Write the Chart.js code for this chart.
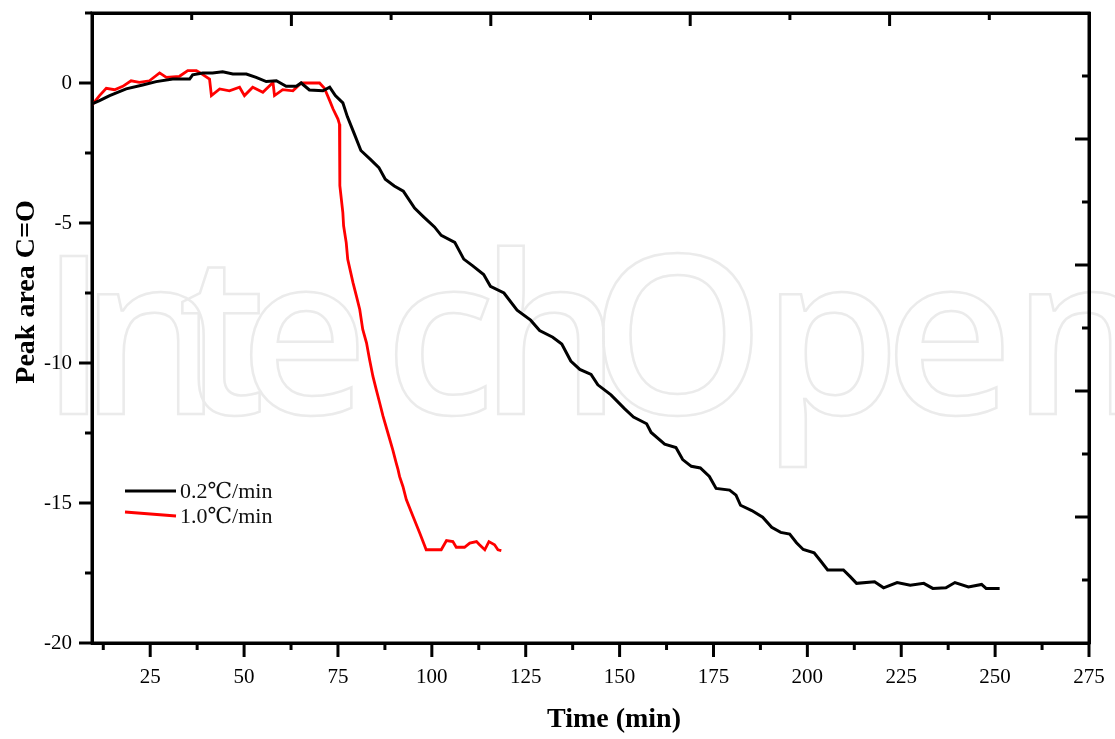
<!DOCTYPE html>
<html><head><meta charset="utf-8">
<script src="https://cdn.jsdelivr.net/npm/chart.js@4/dist/chart.umd.min.js"></script>
<style>html,body{margin:0;padding:0;background:#fff;} #wrap{width:1115px;height:739px;position:relative;}</style>
</head><body><div id="wrap"><canvas id="c" width="1115" height="739"></canvas></div>
<script>
// ---- data ----
const time02 = [9.5,11.5,14.2,18.6,23,26.6,31,35.5,36.3,39,41.6,44.3,47,50.6,53.2,55.9,58.6,61.2,63.9,65.2,67.4,71,72.8,74.3,76.3,77.5,79.3,81.1,83.5,85.9,87.6,90.0,92.4,95.4,97.8,100.7,102.5,106.1,108.5,110.9,113.8,115.6,119.2,122.7,126.3,128.7,132.2,134.6,137.0,139.4,142.4,144.2,147.7,151.3,153.7,157.2,158.4,162.0,165.0,166.8,169.1,171.5,173.9,175.7,179.3,181.0,182.2,185.2,188.1,190.5,192.9,195.3,197.1,198.9,201.8,203.6,205.4,209.6,211.4,213.1,217.9,220.3,223.9,227.4,231.0,233.4,236.9,239.3,242.9,246.4,247.6,251.2];
const area02 = [-0.75,-0.63,-0.45,-0.21,-0.07,0.05,0.14,0.14,0.29,0.36,0.36,0.40,0.32,0.32,0.20,0.05,0.08,-0.12,-0.12,0.0,-0.25,-0.28,-0.15,-0.45,-0.71,-1.20,-1.80,-2.41,-2.71,-3.02,-3.44,-3.68,-3.86,-4.47,-4.78,-5.14,-5.44,-5.69,-6.29,-6.53,-6.84,-7.26,-7.50,-8.11,-8.47,-8.84,-9.08,-9.32,-9.93,-10.23,-10.41,-10.78,-11.14,-11.63,-11.93,-12.17,-12.48,-12.90,-13.02,-13.45,-13.69,-13.75,-14.05,-14.48,-14.54,-14.72,-15.08,-15.27,-15.51,-15.87,-16.05,-16.11,-16.42,-16.66,-16.78,-17.08,-17.39,-17.39,-17.63,-17.87,-17.81,-18.03,-17.84,-17.94,-17.87,-18.05,-18.03,-17.84,-18.00,-17.91,-18.05,-18.05];
const time10 = [9.5,11.5,13.3,15.5,17.7,19.9,22.1,24.8,27.5,29.3,32.8,35.0,37.3,38.1,40.8,41.3,43.5,46.1,48.8,50.1,52.3,55.0,57.7,58.1,60.3,63.0,65.2,70.1,71.4,72.8,73.7,75.0,75.4,75.5,76.3,76.5,77.2,77.6,79.0,79.9,80.8,81.6,82.6,83.4,84.3,85.2,86.1,87.0,88.3,89.6,90.5,91.0,91.4,92.3,93.2,95.0,96.8,98.5,102.5,103.9,105.6,106.5,108.7,110.1,111.9,112.7,114.1,115.2,116.7,117.6,118.5];
const area10 = [-0.79,-0.45,-0.19,-0.24,-0.12,0.08,0.02,0.08,0.36,0.20,0.24,0.44,0.44,0.38,0.14,-0.45,-0.21,-0.28,-0.15,-0.45,-0.15,-0.33,0.02,-0.45,-0.24,-0.28,0.00,0.00,-0.19,-0.63,-0.93,-1.29,-1.47,-3.67,-4.63,-5.10,-5.70,-6.30,-7.13,-7.60,-8.09,-8.80,-9.28,-9.87,-10.47,-10.95,-11.42,-11.90,-12.50,-13.10,-13.57,-13.81,-14.05,-14.41,-14.88,-15.48,-16.08,-16.67,-16.67,-16.34,-16.38,-16.58,-16.58,-16.43,-16.38,-16.49,-16.67,-16.38,-16.49,-16.67,-16.70];
const seriesLabels = ['0.2\u2103/min', '1.0\u2103/min'];
const xTickValues = [25,50,75,100,125,150,175,200,225,250,275];
const xMinorValues = [12.5,37.5,62.5,87.5,112.5,137.5,162.5,187.5,212.5,237.5,262.5];
const yTickValues = [0,-5,-10,-15,-20];
const yMinorValues = [2.5,-2.5,-7.5,-12.5,-17.5];
const frameMajor = [1,2,3,4];
const frameMinor = [0.5,1.5,2.5,3.5,4.5];
const xTitle = 'Time (min)';
const yTitle = 'Peak area C=O';
const watermarkText = 'IntechOpen';

// ---- drawing ----
const SERIF = "'Liberation Serif','DejaVu Serif',serif";
const line = (ctx,x1,y1,x2,y2)=>{ctx.beginPath();ctx.moveTo(x1,y1);ctx.lineTo(x2,y2);ctx.stroke();};

const watermarkPlugin = {
  id:'watermark',
  beforeDraw(chart){
    const ctx = chart.ctx;
    const xs = [40, 80, 178, 240, 385, 480, 590, 762, 885, 1012];
    ctx.save();
    ctx.font = "600 222px 'Open Sans'";
    ctx.strokeStyle = '#ebebeb';
    ctx.lineWidth = 2.5;
    ctx.textBaseline = 'alphabetic';
    [...watermarkText].forEach((ch,i)=>ctx.strokeText(ch, xs[i], 414));
    ctx.restore();
  }
};

const ticksPlugin = {
  id:'frameTicks',
  afterDraw(chart){
    const {ctx, chartArea:a, scales} = chart;
    ctx.save();
    ctx.strokeStyle = '#000'; ctx.lineWidth = 3; ctx.lineCap = 'butt';
    xTickValues.forEach(v=>{const p=scales.x.getPixelForValue(v); line(ctx,p,a.bottom,p,a.bottom+14);});
    xMinorValues.forEach(v=>{const p=scales.x.getPixelForValue(v); line(ctx,p,a.bottom,p,a.bottom+7);});
    yTickValues.forEach(v=>{const p=scales.y.getPixelForValue(v); line(ctx,a.left,p,a.left-13,p);});
    yMinorValues.forEach(v=>{const p=scales.y.getPixelForValue(v); line(ctx,a.left,p,a.left-7,p);});
    frameMajor.forEach(v=>{const p=scales.x2.getPixelForValue(v); line(ctx,p,a.top,p,a.top+13);});
    frameMinor.forEach(v=>{const p=scales.x2.getPixelForValue(v); line(ctx,p,a.top,p,a.top+7);});
    frameMajor.forEach(v=>{const p=scales.y2.getPixelForValue(v); line(ctx,a.right,p,a.right-14,p);});
    frameMinor.forEach(v=>{const p=scales.y2.getPixelForValue(v); line(ctx,a.right,p,a.right-7,p);});
    ctx.strokeRect(a.left, a.top, a.right-a.left, a.bottom-a.top);
    // axis titles
    ctx.fillStyle = '#000';
    ctx.font = "bold 28px " + SERIF;
    ctx.textAlign = 'center'; ctx.textBaseline = 'middle';
    ctx.fillText(xTitle, 614, 720);
    ctx.translate(27, 292); ctx.rotate(-Math.PI/2);
    ctx.fillText(yTitle, 0, 0);
    ctx.restore();
  }
};

const legendPlugin = {
  id:'inLegend',
  afterDatasetsDraw(chart){
    const ctx = chart.ctx;
    const ds = chart.data.datasets;
    ctx.save();
    ctx.lineWidth = 3;
    ctx.font = "22px " + SERIF;
    ctx.textBaseline = 'middle'; ctx.textAlign = 'left'; ctx.fillStyle = '#111';
    ctx.strokeStyle = ds[0].borderColor; line(ctx,125,491,176,491);
    ctx.fillText(ds[0].label, 180, 492);
    ctx.strokeStyle = ds[1].borderColor; line(ctx,125,512,176,516);
    ctx.fillText(ds[1].label, 180, 517);
    ctx.restore();
  }
};

const pts = (xs, ys) => xs.map((x,i)=>({x, y: ys[i]}));
const noPad = s => { s.paddingLeft = 0; s.paddingRight = 0; s.paddingTop = 0; s.paddingBottom = 0; };

new Chart(document.getElementById('c'), {
  type:'scatter',
  data:{ datasets:[
    {label:seriesLabels[0], data:pts(time02, area02), borderColor:'#000', backgroundColor:'#000', borderWidth:3, showLine:true, pointRadius:0, tension:0, xAxisID:'x', yAxisID:'y'},
    {label:seriesLabels[1], data:pts(time10, area10), borderColor:'#ff0000', backgroundColor:'#ff0000', borderWidth:2.8, showLine:true, pointRadius:0, tension:0, xAxisID:'x', yAxisID:'y'}
  ]},
  options:{
    responsive:false, animation:false, devicePixelRatio:1,
    layout:{padding:0},
    plugins:{legend:{display:false}, tooltip:{enabled:false}},
    scales:{
      x:{type:'linear', position:'bottom', min:9.5, max:275,
        afterBuildTicks:s=>{s.ticks = xTickValues.map(v=>({value:v}));},
        afterFit:s=>{s.height = 96; noPad(s);},
        grid:{display:false, drawTicks:false},
        border:{display:true, color:'#000', width:3},
        ticks:{color:'#000', font:{family:SERIF, size:21}, padding:22, maxRotation:0, autoSkip:false, callback:v=>String(v)}},
      y:{type:'linear', position:'left', min:-20, max:2.5,
        afterBuildTicks:s=>{s.ticks = yTickValues.map(v=>({value:v}));},
        afterFit:s=>{s.width = 92; noPad(s);},
        grid:{display:false, drawTicks:false},
        border:{display:true, color:'#000', width:3},
        ticks:{color:'#000', font:{family:SERIF, size:21}, padding:20, autoSkip:false, callback:v=>String(v)}},
      x2:{type:'linear', position:'top', min:0, max:5,
        afterFit:s=>{s.height = 13; noPad(s);},
        grid:{display:false, drawTicks:false},
        border:{display:true, color:'#000', width:3},
        ticks:{display:false}},
      y2:{type:'linear', position:'right', min:0, max:5,
        afterFit:s=>{s.width = 26; noPad(s);},
        grid:{display:false, drawTicks:false},
        border:{display:true, color:'#000', width:3},
        ticks:{display:false}}
    }
  },
  plugins:[watermarkPlugin, legendPlugin, ticksPlugin]
});
</script></body></html>
